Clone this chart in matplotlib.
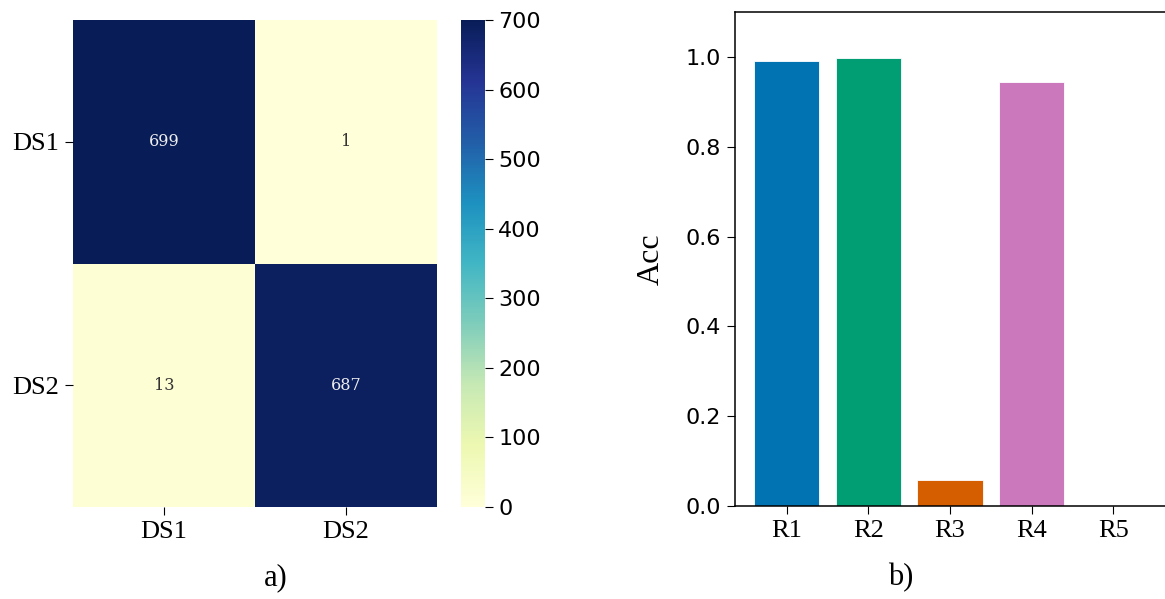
import matplotlib
matplotlib.use("Agg")
import matplotlib.pyplot as plt
import numpy as np

# ---------------------------------------------------------------------------
# Data
# ---------------------------------------------------------------------------
ds_labels = ["DS1", "DS2"]
confusion = np.array([[699, 1],
                      [13, 687]])

run_labels = ["R1", "R2", "R3", "R4", "R5"]
run_acc = [0.99, 0.998, 0.058, 0.943, 0.0]
run_colors = ["#0173b2", "#029e73", "#d55e00", "#cc78bc", "#ca9161"]

# ---------------------------------------------------------------------------
# Fonts
# ---------------------------------------------------------------------------
SERIF = "Liberation Serif"
TICK_FS = 19
NUM_FS = 16
ANNOT_FS = 11.5
YLABEL_FS = 23
PANEL_FS = 22

fig = plt.figure(figsize=(11.65, 5.99), dpi=100)

# ---- (a) confusion heatmap -------------------------------------------------
ax_hm = fig.add_axes([0.0627, 0.1536, 0.3124, 0.813])
ax_cb = fig.add_axes([0.3957, 0.1536, 0.0206, 0.813])

mesh = ax_hm.pcolormesh(confusion, cmap="YlGnBu", vmin=0, vmax=700)
ax_hm.set_xlim(0, 2)
ax_hm.set_ylim(2, 0)
ax_hm.set_xticks([0.5, 1.5])
ax_hm.set_yticks([0.5, 1.5])
ax_hm.set_xticklabels(ds_labels, fontfamily=SERIF, fontsize=TICK_FS)
ax_hm.set_yticklabels(ds_labels, fontfamily=SERIF, fontsize=TICK_FS)
ax_hm.tick_params(length=6, width=0.8, pad=4)
for s in ax_hm.spines.values():
    s.set_visible(False)

for i in range(confusion.shape[0]):
    for j in range(confusion.shape[1]):
        v = confusion[i, j]
        col = "#eeeeee" if v > 350 else "#333333"
        ax_hm.text(j + 0.5, i + 0.5, str(v), ha="center", va="center",
                   fontfamily="DejaVu Serif", fontsize=ANNOT_FS, color=col)

cb = fig.colorbar(mesh, cax=ax_cb)
cb.set_ticks(range(0, 701, 100))
cb.outline.set_visible(False)
ax_cb.tick_params(labelsize=NUM_FS, length=6, width=0.8)

fig.text(0.237, 0.035, "a)", ha="center", va="center",
         fontfamily=SERIF, fontsize=PANEL_FS)

# ---- (b) accuracy bars -----------------------------------------------------
ax_b = fig.add_axes([0.6309, 0.1553, 0.3691, 0.8247])
x = np.arange(len(run_labels))
ax_b.bar(x, run_acc, width=0.8, color=run_colors, edgecolor="white",
         linewidth=0.6)
ax_b.set_xlim(-0.63, 4.63)
ax_b.set_ylim(0, 1.1)
ax_b.set_xticks(x)
ax_b.set_xticklabels(run_labels, fontfamily=SERIF, fontsize=TICK_FS)
ax_b.set_yticks(np.arange(0, 1.01, 0.2))
ax_b.set_yticklabels([f"{v:.1f}" for v in np.arange(0, 1.01, 0.2)],
                     fontsize=NUM_FS)
ax_b.tick_params(length=6, width=0.8, pad=4)
ax_b.set_ylabel("Acc", fontfamily=SERIF, fontsize=YLABEL_FS, labelpad=14)
ax_b.spines["right"].set_visible(False)
for side in ("left", "top", "bottom"):
    ax_b.spines[side].set_linewidth(1.1)

fig.text(0.773, 0.035, "b)", ha="center", va="center",
         fontfamily=SERIF, fontsize=PANEL_FS)

fig.savefig("out.png", dpi=100)
